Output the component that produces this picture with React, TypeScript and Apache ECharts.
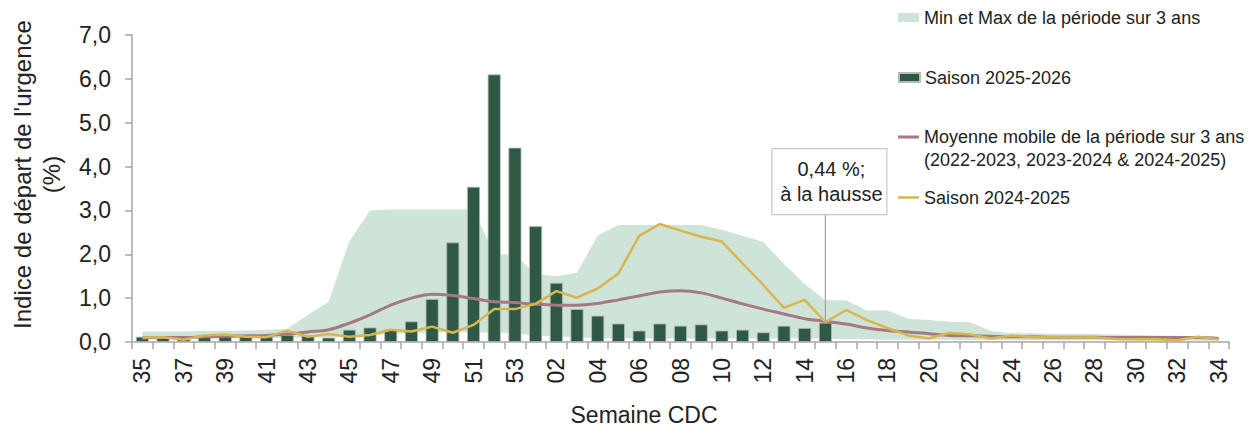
import React, { useEffect, useRef } from "react";
import * as echarts from "echarts";

const weeks = [
  "35","36","37","38","39","40","41","42","43","44","45","46","47","48","49","50","51","52","53",
  "01","02","03","04","05","06","07","08","09","10","11","12","13","14","15","16","17","18","19",
  "20","21","22","23","24","25","26","27","28","29","30","31","32","33","34",
];

const season2526 = [
  0.12,0.09,0.07,0.11,0.15,0.14,0.12,0.16,0.15,0.10,0.28,0.33,0.29,0.47,0.98,2.27,3.54,6.10,4.43,
  2.64,1.35,0.75,0.60,0.42,0.26,0.42,0.37,0.40,0.26,0.28,0.22,0.37,0.32,0.44,
];

const season2425 = [
  0.10,0.11,0.05,0.15,0.17,0.12,0.11,0.26,0.12,0.18,0.12,0.16,0.28,0.24,0.35,0.21,0.39,0.75,0.75,
  0.87,1.16,1.01,1.22,1.56,2.42,2.69,2.54,2.40,2.29,1.79,1.30,0.78,0.96,0.45,0.73,0.50,0.32,0.15,
  0.08,0.21,0.17,0.08,0.15,0.11,0.11,0.10,0.11,0.07,0.06,0.06,0.04,0.12,0.06,
];

const movingAvg = [
  0.09,0.10,0.10,0.12,0.13,0.14,0.15,0.18,0.23,0.28,0.43,0.62,0.84,1.00,1.09,1.06,0.99,0.92,0.90,
  0.86,0.84,0.84,0.88,0.96,1.05,1.14,1.17,1.12,1.00,0.87,0.75,0.64,0.53,0.47,0.41,0.32,0.26,0.23,
  0.19,0.15,0.14,0.13,0.12,0.12,0.11,0.11,0.11,0.10,0.10,0.10,0.10,0.10,0.08,
];

const bandMax = [
  0.24,0.24,0.24,0.25,0.25,0.26,0.28,0.30,0.62,0.92,2.30,3.00,3.02,3.02,3.02,3.02,3.02,2.00,1.99,
  1.55,1.50,1.58,2.43,2.67,2.67,2.67,2.67,2.67,2.56,2.42,2.28,1.78,1.32,0.95,0.95,0.72,0.72,0.53,
  0.50,0.46,0.45,0.25,0.20,0.20,0.19,0.19,0.18,0.17,0.16,0.15,0.14,0.13,0.12,
];

const bandMin = [
  0.07,0.07,0.07,0.08,0.08,0.08,0.09,0.09,0.10,0.10,0.12,0.15,0.18,0.20,0.22,0.22,0.22,0.21,0.20,
  0.15,0.13,0.11,0.09,0.08,0.08,0.08,0.08,0.08,0.08,0.08,0.08,0.08,0.08,0.08,0.06,0.06,0.05,0.05,
  0.05,0.05,0.04,0.04,0.04,0.04,0.04,0.04,0.04,0.04,0.03,0.03,0.03,0.03,0.03,
];

const yTicks = [0, 1, 2, 3, 4, 5, 6, 7];

const calloutWeekIndex = 33;
const calloutTrend = "à la hausse";

const names = {
  band: "Min et Max de la période sur 3 ans",
  bars: "Saison 2025-2026",
  avg: "Moyenne mobile de la période sur 3 ans\n(2022-2023, 2023-2024 & 2024-2025)",
  prev: "Saison 2024-2025",
};

const FONT = "Liberation Sans, Arial, sans-serif";
const C_BAND = "#cfe4d8";
const C_BAR = "#2f5944";
const C_AVG = "#a47985";
const C_PREV = "#d9b54f";

export default function App() {
  const ref = useRef<HTMLDivElement>(null);

  useEffect(() => {
    if (!ref.current) return;
    const chart = echarts.init(ref.current, null, { renderer: "svg" });
    const bandDiff = bandMax.map((v, i) => +(v - bandMin[i]).toFixed(3));
    const bars = weeks.map((_, i) => (i < season2526.length ? season2526[i] : null));

    const legendText = { fontFamily: FONT, fontSize: 18, color: "#222", lineHeight: 23 };

    chart.setOption({
      animation: false,
      textStyle: { fontFamily: FONT },
      grid: { left: 130, right: 24, top: 35, bottom: 86, containLabel: false },
      legend: [
        {
          left: 898, top: 6, padding: 0, itemWidth: 21, itemHeight: 9, icon: "rect",
          data: [names.band], textStyle: legendText, selectedMode: false,
        },
        {
          left: 898, top: 66, padding: 0, itemWidth: 21, itemHeight: 9, icon: "rect",
          data: [names.bars], textStyle: legendText, selectedMode: false,
        },
        {
          left: 898, top: 125.5, padding: 0, itemWidth: 21, itemHeight: 26,
          icon: "path://M0,0 L21,0 L21,3 L0,3 Z M0,26 L0.01,26 L0,25.99 Z",
          data: [names.avg], textStyle: legendText, selectedMode: false,
        },
        {
          left: 898, top: 186, padding: 0, itemWidth: 21, itemHeight: 2.5, icon: "rect",
          data: [names.prev], textStyle: legendText, selectedMode: false,
        },
      ],
      xAxis: {
        type: "category",
        data: weeks,
        boundaryGap: true,
        name: "Semaine CDC",
        nameLocation: "middle",
        nameGap: 61,
        nameTextStyle: { fontFamily: FONT, fontSize: 23, color: "#222", padding: [0, 73, 0, 0] },
        axisLine: { show: true, lineStyle: { color: "#a6a6a6", width: 1.5 } },
        axisTick: { show: true, interval: 0, length: 7, lineStyle: { color: "#a6a6a6", width: 1.5 } },
        axisLabel: {
          interval: 1, rotate: 90, margin: 16,
          fontFamily: FONT, fontSize: 23, color: "#222",
        },
        splitLine: { show: false },
      },
      yAxis: {
        type: "value",
        min: yTicks[0],
        max: yTicks[yTicks.length - 1],
        interval: 1,
        name: "Indice de départ de l'urgence\n(%)",
        nameLocation: "middle",
        nameGap: 66,
        nameRotate: 90,
        nameTextStyle: {
          fontFamily: FONT, fontSize: 24, color: "#222", lineHeight: 29, align: "center",
          padding: [0, 0, 0, 28],
        },
        axisLine: { show: true, lineStyle: { color: "#a6a6a6", width: 1.5 } },
        axisTick: { show: true, length: 7, lineStyle: { color: "#a6a6a6", width: 1.5 } },
        axisLabel: {
          margin: 21, fontFamily: FONT, fontSize: 23, color: "#222",
          formatter: (v: number) => v.toFixed(1).replace(".", ","),
        },
        splitLine: { show: false },
      },
      series: [
        {
          name: "min", type: "line", stack: "band", data: bandMin, symbol: "none",
          lineStyle: { width: 0, opacity: 0 }, silent: true, z: 1,
        },
        {
          name: names.band, type: "line", stack: "band", data: bandDiff, symbol: "none",
          lineStyle: { width: 0, opacity: 0 }, itemStyle: { color: C_BAND },
          areaStyle: { color: C_BAND, opacity: 1 }, silent: true, z: 1,
        },
        {
          name: names.bars, type: "bar", data: bars, barWidth: 13,
          itemStyle: { color: C_BAR, borderColor: "#b3bdb7", borderWidth: 0.8 }, z: 2,
        },
        {
          name: names.avg, type: "line", data: movingAvg, symbol: "none", smooth: 0.35,
          lineStyle: { color: C_AVG, width: 3 }, itemStyle: { color: C_AVG }, z: 3,
        },
        {
          name: names.prev, type: "line", data: season2425, symbol: "none",
          lineStyle: { color: C_PREV, width: 2.5 }, itemStyle: { color: C_PREV }, z: 4,
        },
      ],
    });

    const val = season2526[calloutWeekIndex];
    const p = chart.convertToPixel({ xAxisIndex: 0, yAxisIndex: 0 }, [calloutWeekIndex, val]) as number[];
    const boxW = 115, boxH = 66;
    const boxBottom = p[1] - 108;
    const cx = p[0] + 4;
    chart.setOption({
      graphic: [
        {
          type: "line",
          shape: { x1: p[0], y1: boxBottom, x2: p[0], y2: p[1] },
          style: { stroke: "#a0a0a0", lineWidth: 1.2 },
          z: 100,
        },
        {
          type: "rect",
          shape: { x: cx - boxW / 2, y: boxBottom - boxH, width: boxW, height: boxH },
          style: { fill: "#ffffff", stroke: "#c8c8c8", lineWidth: 1.2 },
          z: 100,
        },
        {
          type: "text",
          x: cx + 2, y: boxBottom - boxH / 2,
          style: {
            text: `${val.toFixed(2).replace(".", ",")} %;\n${calloutTrend}`,
            fontFamily: FONT, fontSize: 20, lineHeight: 25, fill: "#222",
            align: "center", verticalAlign: "middle",
          },
          z: 101,
        },
      ],
    });

    return () => chart.dispose();
  }, []);

  return (
    <div
      ref={ref}
      style={{ position: "absolute", left: 0, top: 0, width: 1253, height: 431 }}
    />
  );
}
